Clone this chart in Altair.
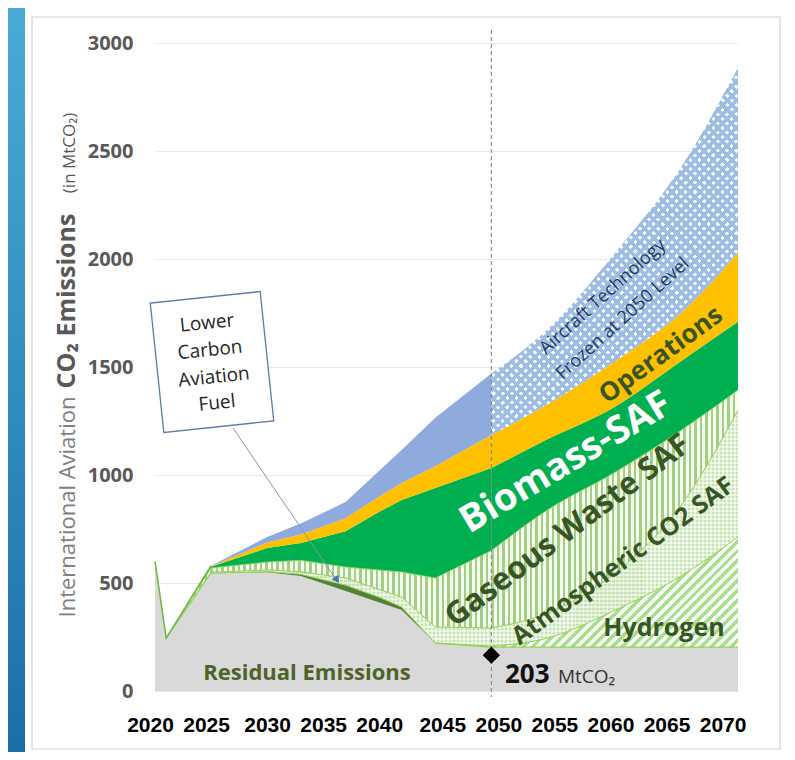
import altair as alt
import numpy as np
import pandas as pd

# ---------------- data ----------------
years = [2020, 2021, 2025, 2030, 2033, 2037, 2040, 2042, 2045, 2050, 2055, 2061, 2067, 2072]
residual = [600, 245, 545, 550, 532, 463, 410, 375, 222, 203, 203, 203, 203, 203]
lower_carbon_fuel = [0, 0, 0, 3, 8, 27, 24, 14, 0, 0, 0, 0, 0, 0]
hydrogen = [0, 0, 0, 0, 0, 0, 0, 0, 0, 5, 42, 170, 332, 510]
atmospheric_saf = [0, 0, 5, 7, 12, 33, 36, 46, 74, 84, 115, 172, 330, 587]
gaseous_waste_saf = [0, 0, 20, 37, 53, 51, 90, 116, 227, 358, 478, 467, 345, 94]
biomass_saf = [0, 0, 5, 65, 80, 166, 270, 333, 417, 382, 327, 303, 320, 315]
operations = [0, 0, 2, 26, 40, 60, 70, 79, 100, 153, 162, 210, 225, 319]
aircraft_technology = [0, 0, 3, 25, 50, 75, 120, 153, 225, 285, 345, 500, 675, 856]

residual_2050 = 203
x_ticks = [2020, 2025, 2030, 2035, 2040, 2045, 2050, 2055, 2060, 2065, 2070]
y_ticks = [0, 500, 1000, 1500, 2000, 2500, 3000]

# ---------------- geometry ----------------
PLOT_W, PLOT_H = 583, 648
X_DOMAIN = [2020, 2072]
Y_DOMAIN = [0, 3000]
SPLIT = 2050


def px(yr):
    return (yr - X_DOMAIN[0]) / (X_DOMAIN[1] - X_DOMAIN[0]) * PLOT_W


def py(v):
    return v / Y_DOMAIN[1] * PLOT_H


series = [
    ("Residual Emissions", residual),
    ("Lower Carbon Aviation Fuel", lower_carbon_fuel),
    ("Hydrogen", hydrogen),
    ("Atmospheric CO2 SAF", atmospheric_saf),
    ("Gaseous Waste SAF", gaseous_waste_saf),
    ("Biomass-SAF", biomass_saf),
    ("Operations", operations),
    ("Aircraft Technology", aircraft_technology),
]
rows = []
base = np.zeros(len(years))
for name, vals in series:
    top = base + np.asarray(vals, dtype=float)
    for i, yr in enumerate(years):
        rows.append({"series": name, "year": yr, "lo": float(base[i]), "hi": float(top[i])})
    base = top
table = pd.DataFrame(rows)


def part(name, y0, y1):
    return table[(table.series == name) & (table.year >= y0) & (table.year <= y1)].reset_index(drop=True)


def bbox(d):
    w = px(d.year.max()) - px(d.year.min())
    h = py(d.hi.max()) - py(d.lo.min())
    return float(max(w, 1.0)), float(max(h, 1.0))


def stripe_stops(n, line, gap, frac):
    stops = []
    for i in range(n):
        a = round(i / n, 5)
        b = round((i + frac) / n, 5)
        c = round(min((i + 1) / n, 1.0), 5)
        stops += [
            alt.GradientStop(color=line, offset=a),
            alt.GradientStop(color=line, offset=b),
            alt.GradientStop(color=gap, offset=b),
            alt.GradientStop(color=gap, offset=c),
        ]
    return stops


def vstripes(period, line, gap, frac):
    def make(d):
        w, h = bbox(d)
        n = max(1, int(round(w / period)))
        return alt.LinearGradient(gradient="linear", stops=stripe_stops(n, line, gap, frac),
                                  x1=0, y1=0, x2=1, y2=0)
    return make


def hstripes(period, line, gap, frac):
    def make(d):
        w, h = bbox(d)
        n = max(1, int(round(h / period)))
        return alt.LinearGradient(gradient="linear", stops=stripe_stops(n, line, gap, frac),
                                  x1=0, y1=0, x2=0, y2=1)
    return make


def dstripes(period, line, gap, frac, direction):
    def make(d):
        w, h = bbox(d)
        lam = float(w * (w + h) / (w * w + h * h))
        n = max(1, int(round((w + h) / (period * np.sqrt(2)))))
        if direction == "/":
            coords = dict(x1=0, y1=0, x2=lam, y2=float(lam * h / w))
        else:
            coords = dict(x1=0, y1=1, x2=lam, y2=float(1 - lam * h / w))
        return alt.LinearGradient(gradient="linear", stops=stripe_stops(n, line, gap, frac), **coords)
    return make


def solid(color):
    return lambda d: color


# ---------------- scales & axes ----------------
xs = alt.Scale(domain=X_DOMAIN, nice=False, zero=False)
ys = alt.Scale(domain=Y_DOMAIN, nice=False, zero=True)

xaxis = alt.Axis(
    values=x_ticks, format="d", title=None, domain=False, ticks=False, grid=False,
    labelFlush=False, labelOverlap=False, labelFont="Liberation Sans", labelFontSize=21,
    labelFontWeight="bold", labelColor="#000000", labelPadding=23,
    labelOffset={"condition": [{"test": "datum.value <= 2025", "value": -5},
                               {"test": "datum.value >= 2045", "value": 7}], "value": 0},
)
yaxis = alt.Axis(
    values=y_ticks, format="d", title=None, domain=False, ticks=False, grid=True,
    gridColor="#e8e8e8", gridWidth=1, labelFont="Open Sans", labelFontSize=20,
    labelFontWeight="bold", labelColor="#595959", labelPadding=22,
)

XF = alt.X("year:Q", scale=xs, axis=xaxis)
YF = alt.Y("hi:Q", scale=ys, axis=yaxis)


def area_part(d, fill, interp):
    return alt.Chart(d).mark_area(fill=fill, strokeWidth=0, interpolate=interp).encode(
        x=XF, y=YF, y2="lo:Q")


def area(name, y0, y1, fill_maker):
    """Linear before 2050, smooth (monotone) after 2050."""
    out = []
    if y0 < SPLIT:
        d = part(name, y0, min(y1, SPLIT))
        out.append(area_part(d, fill_maker(d), "linear"))
    if y1 > SPLIT:
        d = part(name, max(y0, SPLIT), y1)
        out.append(area_part(d, fill_maker(d), "monotone"))
    return out


def edge(name, y0, y1, field, color, width):
    out = []
    for a, b, interp in [(y0, min(y1, SPLIT), "linear"), (max(y0, SPLIT), y1, "monotone")]:
        if b > a:
            d = part(name, a, b)
            out.append(alt.Chart(d).mark_line(color=color, strokeWidth=width, interpolate=interp)
                       .encode(x=XF, y=alt.Y(field + ":Q", scale=ys, axis=yaxis)))
    return out


def label(text, x, y, size, color, weight="bold", angle=0, align="center",
          baseline="middle", font="Open Sans"):
    kw = dict(fontSize=size, color=color, fontWeight=weight, align=align,
              baseline=baseline, font=font)
    if angle:
        kw["angle"] = angle
    return alt.Chart(pd.DataFrame({"t": [text]})).mark_text(**kw).encode(
        x=alt.value(x), y=alt.value(y), text="t:N")


one = pd.DataFrame({"k": [0]})
green_edge = "#92d050"
clear = "rgba(255,255,255,0)"

# ---------------- area layers ----------------
layers = []
layers += area("Residual Emissions", 2020, 2072, solid("#d9d9d9"))
layers += area("Lower Carbon Aviation Fuel", 2025, 2045, solid("#548235"))
layers += area("Hydrogen", 2045, 2072, dstripes(7.0, "#a6e08a", "#ffffff", 0.5, "/"))
layers += area("Atmospheric CO2 SAF", 2021, 2072, solid("#c6e2b0"))
layers += area("Atmospheric CO2 SAF", 2021, 2072, vstripes(4.0, "rgba(255,255,255,0.55)", clear, 0.4))
layers += area("Atmospheric CO2 SAF", 2021, 2072, hstripes(4.0, "rgba(255,255,255,0.55)", clear, 0.4))
layers += area("Gaseous Waste SAF", 2021, 2072, vstripes(5.5, "#a3cf84", "#f4faf0", 0.45))
layers += area("Biomass-SAF", 2021, 2072, solid("#00b050"))
layers += area("Operations", 2021, 2072, solid("#ffc000"))
layers += area("Aircraft Technology", 2021, 2050, solid("#8faadc"))
layers += area("Aircraft Technology", 2050, 2072, dstripes(6.5, "#9dbde5", "#ffffff", 0.55, "\\"))
layers += area("Aircraft Technology", 2050, 2072, dstripes(6.5, "#9dbde5", clear, 0.55, "/"))

# light green edges of the hatched fuels
layers += edge("Residual Emissions", 2045, 2072, "hi", green_edge, 1.2)
layers += edge("Hydrogen", 2021, 2072, "hi", green_edge, 1)
layers += edge("Atmospheric CO2 SAF", 2021, 2072, "hi", green_edge, 1)
layers += edge("Gaseous Waste SAF", 2021, 2072, "hi", green_edge, 0.8)
# green outline of the 2020-2025 total
layers += edge("Aircraft Technology", 2020, 2025, "hi", "#6dbb45", 1.6)

# 2050 marker
layers.append(alt.Chart(one).mark_rule(strokeDash=[4, 3], color="#7f7f7f", strokeWidth=1).encode(
    x=alt.X(datum=2050, scale=xs, axis=xaxis), y=alt.value(-13), y2=alt.value(654)))
layers.append(alt.Chart(one).mark_point(shape="diamond", filled=True, color="#000000",
                                        size=300, opacity=1).encode(
    x=alt.X(datum=2050, scale=xs, axis=xaxis),
    y=alt.Y(datum=residual_2050, scale=ys, axis=yaxis),
    yOffset=alt.value(8)))

# ---------------- background decorations ----------------
strip = alt.Chart(one).mark_rect(
    fill=alt.LinearGradient(gradient="linear",
                            stops=[alt.GradientStop(color="#49acd5", offset=0),
                                   alt.GradientStop(color="#1c6fa6", offset=1)],
                            x1=0, y1=0, x2=0, y2=1)
).encode(x=alt.value(-147), x2=alt.value(-130), y=alt.value(-35), y2=alt.value(709))

border = alt.Chart(one).mark_rect(fillOpacity=0, stroke="#d2d2d2", strokeWidth=1.2).encode(
    x=alt.value(-123), x2=alt.value(625), y=alt.value(-26), y2=alt.value(706))
layers += [strip, border]

# ---------------- texts ----------------
dg = "#375623"
layers += [
    label("Aircraft Technology", 448, 254, 18, "#1f3864", weight="normal", angle=318),
    label("Frozen at 2050 Level", 468, 276, 18, "#1f3864", weight="normal", angle=318),
    label("Operations", 506, 312, 26, dg, angle=324),
    label("Biomass-SAF", 411, 420, 38, "#ffffff", angle=329),
    label("Gaseous Waste SAF", 413, 488, 31, dg, angle=323),
    label("Atmospheric CO2 SAF", 468, 518, 25, dg, angle=324),
    label("Hydrogen", 509, 585, 25, dg),
    label("Residual Emissions", 152, 630, 22, "#4f6228"),
    label(str(residual_2050), 350, 640, 26, "#111111", align="left", baseline="alphabetic"),
    label("MtCO₂", 403, 640, 19, "#333333", weight="normal", align="left", baseline="alphabetic"),
    # y-axis title pieces
    label("International Aviation", -80, 464, 22, "#7f7f7f", weight="normal", angle=270,
          baseline="alphabetic"),
    label("CO₂ Emissions", -80, 258, 25, "#595959", angle=270, baseline="alphabetic"),
    label("(in MtCO₂)", -80, 110, 17, "#595959", weight="normal", angle=270, baseline="alphabetic"),
]

# callout box + arrow
layers.append(alt.Chart(one).mark_point(
    shape="M-0.85,-1L0.85,-1L0.85,1L-0.85,1Z", size=16900, angle=354, filled=True,
    fill="#ffffff", stroke="#5b7ba8", strokeWidth=1.3, opacity=1, fillOpacity=1
).encode(x=alt.value(57), y=alt.value(319)))
layers += [
    label("Lower", 52, 280, 19, "#262626", weight="normal", angle=354),
    label("Carbon", 55, 307, 19, "#262626", weight="normal", angle=354),
    label("Aviation", 59, 334, 19, "#262626", weight="normal", angle=354),
    label("Fuel", 62, 360, 19, "#262626", weight="normal", angle=354),
]
layers.append(alt.Chart(one).mark_rule(color="#8497b0", strokeWidth=1).encode(
    x=alt.value(78), y=alt.value(385), x2=alt.value(182), y2=alt.value(538)))
layers.append(alt.Chart(one).mark_point(shape="triangle-down", filled=True, color="#4472c4",
                                        size=70, angle=326, opacity=1).encode(
    x=alt.value(182), y=alt.value(537)))

chart = alt.layer(*layers).properties(
    width=PLOT_W, height=PLOT_H,
    padding={"left": 147, "top": 35, "right": 49, "bottom": 61},
    autosize=alt.AutoSizeParams(type="none"),
    background="white",
).configure_view(strokeWidth=0)

chart.save("out.html", embed_options={"renderer": "svg", "actions": False})
